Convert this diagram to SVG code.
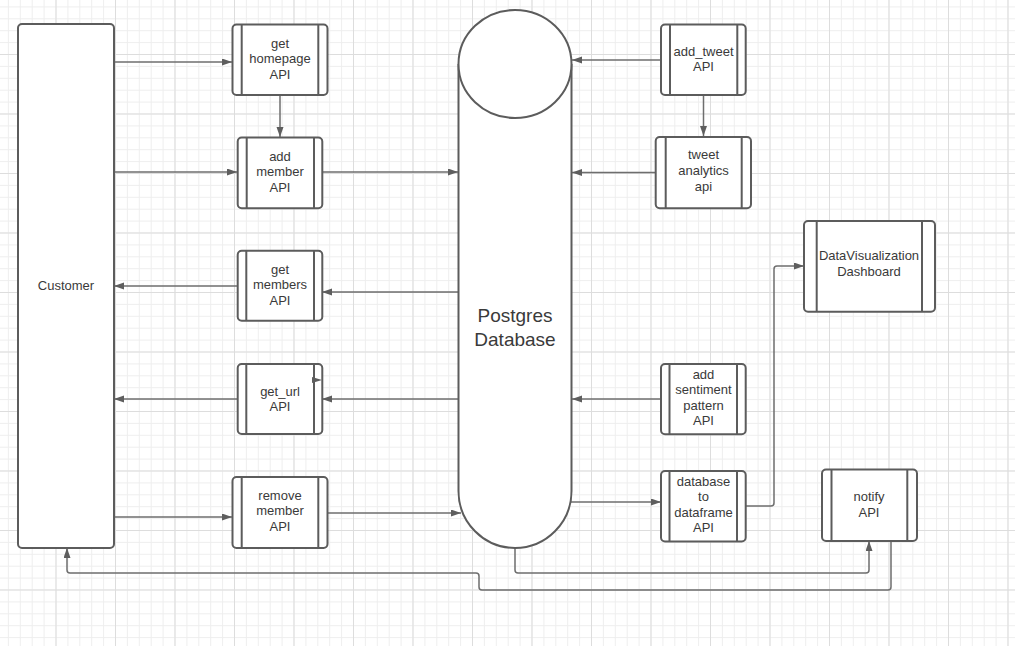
<svg xmlns="http://www.w3.org/2000/svg" width="1015" height="646" viewBox="0 0 1015 646">
<style>
.node{fill:#fff;stroke:#5c5c5c;stroke-width:2}
.bar{stroke:#5c5c5c;stroke-width:2;fill:none}
.lbl{font-family:"Liberation Sans",Arial,sans-serif;font-size:13px;fill:#3a3a3a;text-anchor:middle}
.big{font-family:"Liberation Sans",Arial,sans-serif;font-size:19px;fill:#3a3a3a;text-anchor:middle}
.conn path{fill:none;stroke:#6e6e6e;stroke-width:1.5;marker-end:url(#ah)}
.conn path.head{fill:#5e5e5e;stroke:none;marker-end:none}
</style>
<defs>
<pattern id="mg" x="55.5" y="54" width="11.9" height="11.9" patternUnits="userSpaceOnUse"><path d="M0,0.5H11.9M0.5,0V11.9" stroke="#eeeeee" stroke-width="1"/></pattern>
<pattern id="Mg" x="55.5" y="54" width="59.5" height="59.5" patternUnits="userSpaceOnUse"><path d="M0,0.5H59.5M0.5,0V59.5" stroke="#dddddd" stroke-width="1"/></pattern>
<marker id="ah" markerUnits="userSpaceOnUse" markerWidth="11" markerHeight="8" refX="10" refY="3.5" orient="auto"><path d="M0,0L10,3.5L0,7z" fill="#5e5e5e"/></marker>
</defs>
<rect width="1015" height="646" fill="#fff"/>
<rect width="1015" height="646" fill="url(#mg)"/>
<rect width="1015" height="646" fill="url(#Mg)"/>

<g id="connectors" class="conn">
<path d="M114,62H232"/>
<path d="M280,95V137"/>
<path d="M114,172H237"/>
<path d="M322,172H458"/>
<path d="M458,292H322"/>
<path d="M238,286H114"/>
<path d="M458,399H322"/>
<path d="M238,399H114"/>
<path d="M114,517H232"/>
<path d="M328,513H461"/>
<path d="M661,60H572"/>
<path d="M703.5,95V136"/>
<path d="M656,172.5H572"/>
<path d="M661,399H572"/>
<path d="M571,502H661"/>
<path d="M746,506H771Q774,506 774,503V269Q774,266 777,266H804"/>
<path d="M515,548V570Q515,573 518,573H866Q869,573 869,570V541"/>
<path d="M891,541V587Q891,590 888,590H482Q479,590 479,587V576Q479,573 476,573H70Q67,573 67,570V548"/>
</g>

<g id="customer">
<rect class="node" x="18" y="24" width="96" height="524" rx="4"/>
<text class="lbl" x="66" y="289.5">Customer</text>
</g>

<g id="get-homepage-api">
<rect class="node" x="232.5" y="24.5" width="95" height="70.5" rx="4"/>
<path class="bar" d="M241.7,24.5V95M318.3,24.5V95"/>
<text class="lbl" x="280" y="47.7">get</text>
<text class="lbl" x="280" y="63">homepage</text>
<text class="lbl" x="280" y="78.8">API</text>
</g>

<g id="add-member-api">
<rect class="node" x="237.7" y="137.5" width="84.6" height="70.8" rx="4"/>
<path class="bar" d="M246.7,137.5V208.3M314,137.5V208.3"/>
<text class="lbl" x="280" y="161">add</text>
<text class="lbl" x="280" y="176.3">member</text>
<text class="lbl" x="280" y="191.8">API</text>
</g>

<g id="get-members-api">
<rect class="node" x="237.7" y="250.7" width="84.6" height="70" rx="4"/>
<path class="bar" d="M246.3,250.7V320.7M314,250.7V320.7"/>
<text class="lbl" x="280" y="274">get</text>
<text class="lbl" x="280" y="289.3">members</text>
<text class="lbl" x="280" y="304.7">API</text>
</g>

<g id="get-url-api">
<rect class="node" x="237.7" y="364" width="84.6" height="70" rx="4"/>
<path class="bar" d="M246.3,364V434M314,364V434"/>
<text class="lbl" x="280" y="395.7">get_url</text>
<text class="lbl" x="280" y="410.5">API</text>
</g>

<g id="stray-arrowhead" class="conn">
<path class="head" d="M312,377L322,380L312,383z"/>
</g>

<g id="remove-member-api">
<rect class="node" x="232.5" y="477" width="95" height="71" rx="4"/>
<path class="bar" d="M241.7,477V548M318.3,477V548"/>
<text class="lbl" x="280" y="499.5">remove</text>
<text class="lbl" x="280" y="515.3">member</text>
<text class="lbl" x="280" y="531">API</text>
</g>

<g id="postgres-database">
<path class="node" d="M458.5,64V491A56.5,57 0 0 0 571.5,491V64"/>
<ellipse class="node" cx="515" cy="64" rx="56.5" ry="54"/>
<text class="big" x="515" y="322">Postgres</text>
<text class="big" x="515" y="346">Database</text>
</g>

<g id="add-tweet-api">
<rect class="node" x="661" y="24.5" width="84.7" height="70.5" rx="4"/>
<path class="bar" d="M670,24.5V95M737.3,24.5V95"/>
<text class="lbl" x="703.5" y="56">add_tweet</text>
<text class="lbl" x="703.5" y="70.7">API</text>
</g>

<g id="tweet-analytics-api">
<rect class="node" x="655.7" y="137" width="95.3" height="71.3" rx="4"/>
<path class="bar" d="M665.7,137V208.3M741.7,137V208.3"/>
<text class="lbl" x="703.5" y="159.3">tweet</text>
<text class="lbl" x="703.5" y="175">analytics</text>
<text class="lbl" x="703.5" y="190.7">api</text>
</g>

<g id="datavisualization-dashboard">
<rect class="node" x="804" y="221" width="131" height="90.7" rx="4"/>
<path class="bar" d="M816.7,221V311.7M922,221V311.7"/>
<text class="lbl" x="869" y="260">DataVisualization</text>
<text class="lbl" x="869" y="276">Dashboard</text>
</g>

<g id="add-sentiment-pattern-api">
<rect class="node" x="661" y="364" width="84.7" height="70.3" rx="4"/>
<path class="bar" d="M669.5,364V434.3M737,364V434.3"/>
<text class="lbl" x="703.5" y="378.5">add</text>
<text class="lbl" x="703.5" y="394.3">sentiment</text>
<text class="lbl" x="703.5" y="409.5">pattern</text>
<text class="lbl" x="703.5" y="425">API</text>
</g>

<g id="database-to-dataframe-api">
<rect class="node" x="661" y="471" width="84.7" height="70.5" rx="4"/>
<path class="bar" d="M669.5,471V541.5M737,471V541.5"/>
<text class="lbl" x="703.5" y="485.5">database</text>
<text class="lbl" x="703.5" y="501">to</text>
<text class="lbl" x="703.5" y="516.5">dataframe</text>
<text class="lbl" x="703.5" y="532">API</text>
</g>

<g id="notify-api">
<rect class="node" x="822" y="469.5" width="95" height="71.5" rx="4"/>
<path class="bar" d="M831.5,469.5V541M907.3,469.5V541"/>
<text class="lbl" x="869" y="500.5">notify</text>
<text class="lbl" x="869" y="516.5">API</text>
</g>
</svg>
